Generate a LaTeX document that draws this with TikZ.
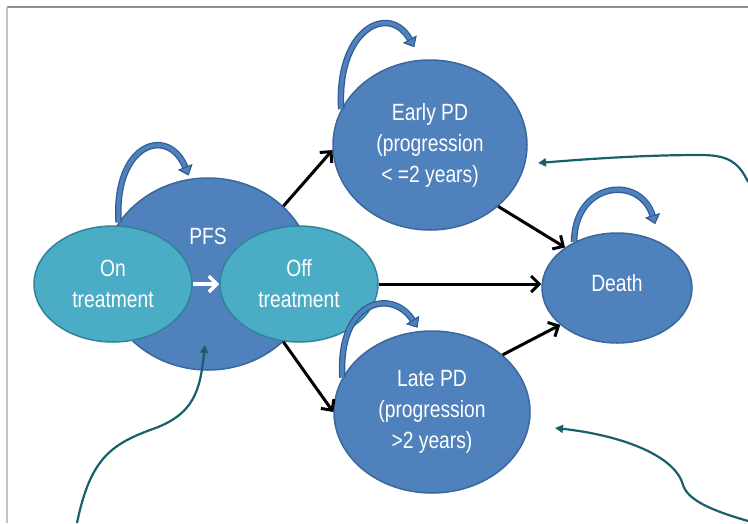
\documentclass[tikz,border=0pt]{standalone}
\usepackage{fontspec}
\newfontfamily\statefont{Liberation Sans}[FakeStretch=0.82]
\usetikzlibrary{arrows.meta,shapes.geometric,positioning}
\definecolor{stateblue}{HTML}{4F81BD}
\definecolor{stateborder}{HTML}{3B679C}
\definecolor{subteal}{HTML}{4BACC6}
\definecolor{subborder}{HTML}{2F8499}
\definecolor{loopborder}{HTML}{2E5C92}
\definecolor{inflow}{HTML}{17606A}
\definecolor{framegray}{HTML}{8E8E8E}
\tikzset{
	% ------- every something
	every node/.style={
		font=\statefont\fontsize{23.5}{31}\selectfont,
		text=white,
	},
	% ------- custom
	state/.style={
		ellipse, draw=stateborder, fill=stateblue,
		line width=1.5pt, align=center, inner sep=0pt,
	},
	substate/.style={
		ellipse, draw=subborder, fill=subteal,
		line width=1.5pt, align=center, inner sep=0pt,
		minimum width=158pt, minimum height=116pt,
	},
	transition/.style={
		line width=3pt,
		-{Straight Barb[length=8pt, width=16pt]},
	},
	selfloop/.style={
		line width=4pt, draw=stateblue,
		-{Triangle[length=9pt, width=15pt, fill=stateblue, color=loopborder, line width=1pt]},
		preaction={draw=loopborder, line width=6.5pt, -{Triangle[length=9pt, width=15pt]}},
	},
	inflow arrow/.style={
		draw=inflow, line width=2.2pt,
		-{Triangle[length=8pt, width=8pt]},
	},
}

\begin{document}
\begin{tikzpicture}[x=1pt, y=-1pt]

% frame %{{{1

	\useasboundingbox (0,0) rectangle (748,523);
	\draw[framegray, line width=1.5pt] (748,7) -- (7,7);
	\draw[framegray!55, line width=1.2pt] (7,7) -- (7,523);

% states %{{{1

	\node[state, minimum width=210pt, minimum height=192pt] (pfs) at (208,274) {};
	\node (pfs text) at (208,236) {PFS};

	\node[substate] (on)  at (113,284) {On\\treatment};
	\node[substate] (off) at (299,284) {Off\\treatment};

	\node[state, minimum width=194pt, minimum height=170pt] (early) at (430,145)
		{Early PD\\(progression\\< =2 years)};
	\node[state, minimum width=196pt, minimum height=162pt] (late) at (432,412)
		{Late PD\\(progression\\>2 years)};
	\node[state, minimum width=150pt, minimum height=110pt] (death) at (617,288)
		{\raisebox{10pt}{Death}};

% transitions %{{{1

	\draw[transition, white, line width=3.5pt] (on.east) -- (off.west);

	\draw[transition] (pfs.42) -- (early.183);
	\draw[transition] (pfs.-42) -- (late.west);
	\draw[transition] (off.east) -- (off.east -| death.west);
	\draw[transition] (early.-42) -- (death.142);
	\draw[transition] (late.39) -- (death.213);

% self loops %{{{1

	\draw[selfloop] (pfs.150) .. controls +(-5,-80) and +(-20,-50) .. ++(70,-47);
	\draw[selfloop] (early.158) .. controls +(-5,-80) and +(-25,-45) .. ++(73,-62);
	\draw[selfloop] (late.159) .. controls +(-5,-78) and +(-25,-40) .. ++(75,-50);
	\draw[selfloop] (death.133) .. controls +(0,-60) and +(-15,-50) .. ++(81,-18);

% inflows %{{{1

	\coordinate (pfs in start) at (77,523);
	\coordinate (pfs in end) at (205,345);
	\coordinate (early in start) at (748,182);
	\coordinate (early in end) at (538,163);
	\coordinate (late in start) at (748,521);
	\coordinate (late in end) at (555,428);

	\draw[inflow arrow] (pfs in start) .. controls (90,460) and (110,445) .. (150,430)
		.. controls (195,415) and (200,390) .. (pfs in end);
	\draw[inflow arrow] (early in start) .. controls (738,160) and (725,155) .. (700,155)
		.. controls (650,155) and (600,158) .. (early in end);
	\draw[inflow arrow] (late in start) .. controls (710,510) and (688,500) .. (683,485)
		.. controls (675,455) and (620,435) .. (late in end);

% closing %{{{1

\end{tikzpicture}
\end{document}
